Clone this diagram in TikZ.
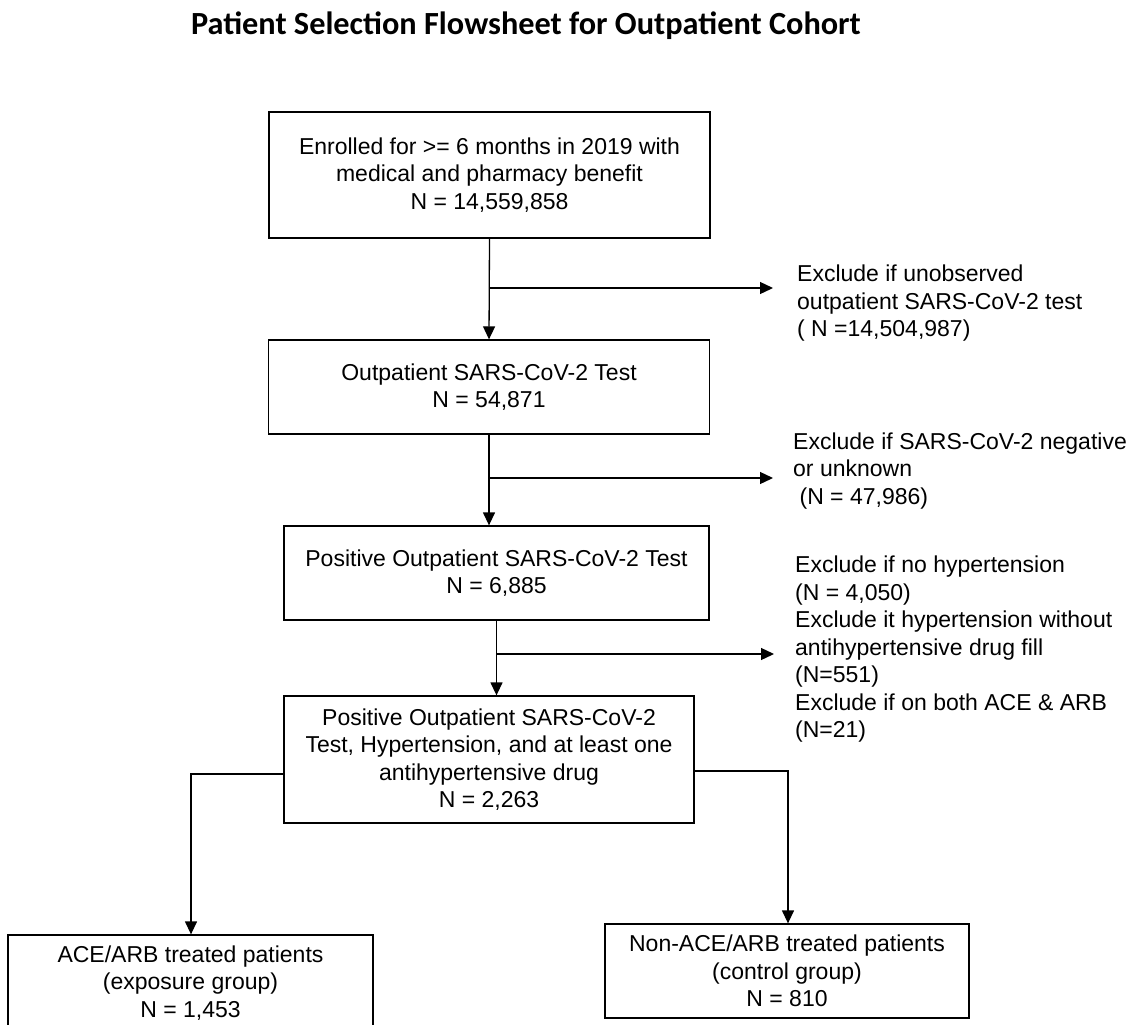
\documentclass[tikz,border=0pt]{standalone}
\usepackage{fontspec}
\setmainfont{Liberation Sans}
\newfontfamily\titlefont{Carlito}
\usetikzlibrary{arrows.meta,positioning}

\begin{document}
\begin{tikzpicture}[
    x=1pt, y=-1pt,
    stage/.style={rectangle, draw, line width=1.3pt, align=center, inner sep=0pt,
        font=\fontsize{23}{27.5}\selectfont},
    note/.style={anchor=west, align=left, inner sep=0pt,
        font=\fontsize{23}{27.5}\selectfont},
    arr/.style={line width=1.3pt, -{Triangle[length=13pt, width=12pt]}},
]
    \useasboundingbox (0,0) rectangle (1135,1025);
    \clip (0,0) rectangle (1135,1025);

    % Title
    \node[font=\titlefont\bfseries\fontsize{32.3}{36}\selectfont] (title) at (526,26)
        {Patient Selection Flowsheet for Outpatient Cohort};

    % Stages
    \node[stage, minimum width=441pt, minimum height=126pt] (enrol) at (489.5,175)
        {Enrolled for >= 6 months in 2019 with\\medical and pharmacy benefit\\N = 14,559,858};
    \node[stage, minimum width=441pt, minimum height=94pt] (tested) at (489,387)
        {Outpatient SARS-CoV-2 Test\\N = 54,871};
    \node[stage, minimum width=425pt, minimum height=94pt] (positive) at (496.5,573)
        {Positive Outpatient SARS-CoV-2 Test\\N = 6,885};
    \node[stage, minimum width=410pt, minimum height=127pt] (cohort) at (489,759.5)
        {Positive Outpatient SARS-CoV-2\\Test, Hypertension, and at least one\\antihypertensive drug\\N = 2,263};
    \node[stage, minimum width=365pt, minimum height=96pt] (exposed) at (190.5,983)
        {ACE/ARB treated patients\\(exposure group)\\N = 1,453};
    \node[stage, minimum width=364pt, minimum height=94pt] (control) at (787,971)
        {Non-ACE/ARB treated patients\\(control group)\\N = 810};

    % Exclusions
    \node[note] (ex1) at (797,303.5)
        {Exclude if unobserved\\outpatient SARS-CoV-2 test\\( N =14,504,987)};
    \node[note] (ex2) at (793,471)
        {Exclude if SARS-CoV-2 negative\\or unknown\\\ (N = 47,986)};
    \node[note] (ex3) at (795,649.5)
        {Exclude if no hypertension\\(N = 4,050)\\Exclude it hypertension without\\antihypertensive drug fill\\(N=551)\\Exclude if on both ACE \& ARB\\(N=21)};

    \coordinate (j1) at (489,288);
    \coordinate (t1) at (773,288);
    \coordinate (j2) at (489,478);
    \coordinate (t2) at (773,478);
    \coordinate (j3) at (496,654);
    \coordinate (t3) at (774,654);

    % Arrows
    \draw[arr] (enrol.south) -- (tested.north);
    \draw[arr] (j1) -- (t1);
    \draw[arr] (tested.south) -- (positive.north -| tested.south);
    \draw[arr] (j2) -- (t2);
    \draw[arr] (positive.south) -- (positive.south |- cohort.north);
    \draw[arr] (j3) -- (t3);
    \draw[arr] ([yshift=-14.5pt]cohort.west) -| ([xshift=0.5pt]exposed.north);
    \draw[arr] ([yshift=-11.5pt]cohort.east) -| ([xshift=1pt]control.north);
\end{tikzpicture}
\end{document}
